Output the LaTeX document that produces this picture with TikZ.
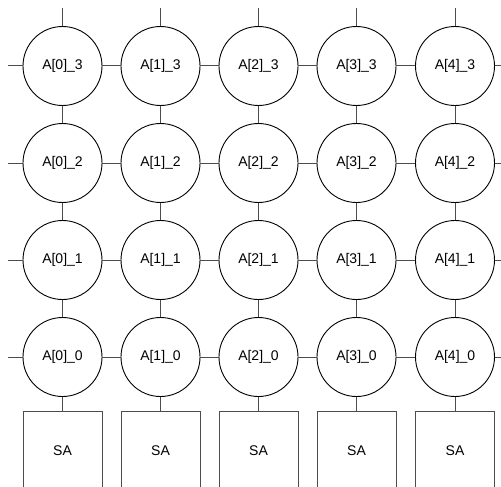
\documentclass[tikz,border=0pt]{standalone}
\usepackage{fontspec}
\setmainfont{Liberation Sans}
\usetikzlibrary{positioning}

\begin{document}
\begin{tikzpicture}[x=1pt,y=-1pt]
  \tikzset{
    cell/.style={circle, draw=black, line width=0.9pt, minimum size=79pt, inner sep=0pt, font=\fontsize{14}{16}\selectfont},
    amp/.style={rectangle, draw=black!70, line width=1pt, minimum width=79pt, minimum height=80pt, inner sep=0pt, font=\fontsize{14}{16}\selectfont},
    wire/.style={black!70, line width=1pt}
  }
  \clip (0,0) rectangle (501,487);

  % column x positions
  \def\xA{62.5}
  \def\xB{160.5}
  \def\xC{258.5}
  \def\xD{356.5}
  \def\xE{455}
  % row y positions (top row first)
  \def\yD{66}
  \def\yC{163}
  \def\yB{260}
  \def\yA{357}
  \def\ySA{451}

  % Cells
  \node[cell] (a03) at (\xA,\yD) {A[0]\_3};
  \node[cell] (a13) at (\xB,\yD) {A[1]\_3};
  \node[cell] (a23) at (\xC,\yD) {A[2]\_3};
  \node[cell] (a33) at (\xD,\yD) {A[3]\_3};
  \node[cell] (a43) at (\xE,\yD) {A[4]\_3};

  \node[cell] (a02) at (\xA,\yC) {A[0]\_2};
  \node[cell] (a12) at (\xB,\yC) {A[1]\_2};
  \node[cell] (a22) at (\xC,\yC) {A[2]\_2};
  \node[cell] (a32) at (\xD,\yC) {A[3]\_2};
  \node[cell] (a42) at (\xE,\yC) {A[4]\_2};

  \node[cell] (a01) at (\xA,\yB) {A[0]\_1};
  \node[cell] (a11) at (\xB,\yB) {A[1]\_1};
  \node[cell] (a21) at (\xC,\yB) {A[2]\_1};
  \node[cell] (a31) at (\xD,\yB) {A[3]\_1};
  \node[cell] (a41) at (\xE,\yB) {A[4]\_1};

  \node[cell] (a00) at (\xA,\yA) {A[0]\_0};
  \node[cell] (a10) at (\xB,\yA) {A[1]\_0};
  \node[cell] (a20) at (\xC,\yA) {A[2]\_0};
  \node[cell] (a30) at (\xD,\yA) {A[3]\_0};
  \node[cell] (a40) at (\xE,\yA) {A[4]\_0};

  % Sense amps
  \node[amp] (sa0) at (\xA,\ySA) {SA};
  \node[amp] (sa1) at (\xB,\ySA) {SA};
  \node[amp] (sa2) at (\xC,\ySA) {SA};
  \node[amp] (sa3) at (\xD,\ySA) {SA};
  \node[amp] (sa4) at (\xE,\ySA) {SA};

  % Free line ends
  \coordinate (l3) at (8,\yD);   \coordinate (r3) at (512,\yD);
  \coordinate (l2) at (8,\yC);   \coordinate (r2) at (512,\yC);
  \coordinate (l1) at (8,\yB);   \coordinate (r1) at (512,\yB);
  \coordinate (l0) at (8,\yA);   \coordinate (r0) at (512,\yA);
  \coordinate (t0) at (\xA,8);
  \coordinate (t1) at (\xB,8);
  \coordinate (t2) at (\xC,8);
  \coordinate (t3) at (\xD,8);
  \coordinate (t4) at (\xE,8);

  % Word lines
  \draw[wire] (l3) -- (a03) -- (a13) -- (a23) -- (a33) -- (a43) -- (r3);
  \draw[wire] (l2) -- (a02) -- (a12) -- (a22) -- (a32) -- (a42) -- (r2);
  \draw[wire] (l1) -- (a01) -- (a11) -- (a21) -- (a31) -- (a41) -- (r1);
  \draw[wire] (l0) -- (a00) -- (a10) -- (a20) -- (a30) -- (a40) -- (r0);

  % Bit lines
  \draw[wire] (t0) -- (a03) -- (a02) -- (a01) -- (a00) -- (sa0);
  \draw[wire] (t1) -- (a13) -- (a12) -- (a11) -- (a10) -- (sa1);
  \draw[wire] (t2) -- (a23) -- (a22) -- (a21) -- (a20) -- (sa2);
  \draw[wire] (t3) -- (a33) -- (a32) -- (a31) -- (a30) -- (sa3);
  \draw[wire] (t4) -- (a43) -- (a42) -- (a41) -- (a40) -- (sa4);

\end{tikzpicture}
\end{document}
